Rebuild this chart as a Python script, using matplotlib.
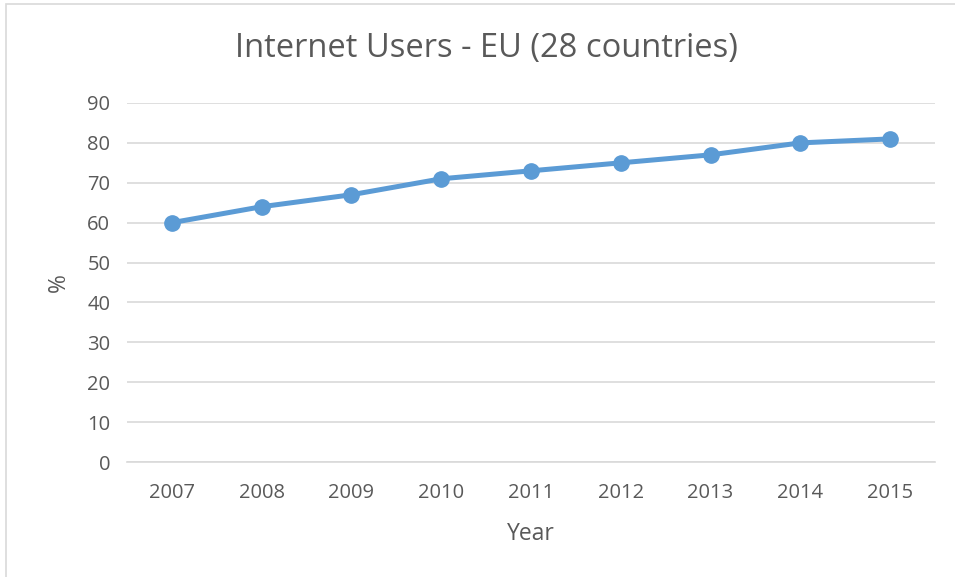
import matplotlib.pyplot as plt
from matplotlib.patches import Rectangle

# internet users in the EU-28, share of population
years = ["2007", "2008", "2009", "2010", "2011", "2012", "2013", "2014", "2015"]
users_pct = [60, 64, 67, 71, 73, 75, 77, 80, 81]

plt.rcParams['font.family'] = ['Open Sans', 'DejaVu Sans']
text_color = "#595959"
grid_color = "#D9D9D9"

fig = plt.figure(figsize=(9.55, 5.77), dpi=100)
ax = fig.add_axes([127 / 955, 1 - 462 / 577, (935 - 127) / 955, (462 - 103) / 577])

# chart border
fig.patches.append(Rectangle((6 / 955, -0.01), 1.0, 1 - 4 / 577 + 0.01, transform=fig.transFigure,
                             fill=False, edgecolor=grid_color, linewidth=1.2))

x = range(len(years))
ax.plot(x, users_pct, color="#5B9BD5", linewidth=3.6, marker="o", markersize=11,
        solid_capstyle="round", zorder=3)

ax.set_xlim(-0.5, len(years) - 0.5)
ax.set_ylim(0, 90)
ax.set_yticks(range(0, 91, 10))
ax.set_xticks(list(x))
ax.set_xticklabels(years)
ax.yaxis.grid(True, color=grid_color, linewidth=1.2)
ax.set_axisbelow(True)
for side in ["top", "right", "left"]:
    ax.spines[side].set_visible(False)
ax.spines["bottom"].set_color(grid_color)
ax.spines["bottom"].set_linewidth(1.2)
ax.tick_params(length=0, labelsize=14.5, colors=text_color)
ax.tick_params(axis="x", pad=15)
ax.tick_params(axis="y", pad=12)

fig.text(486 / 955, 1 - 48 / 577, "Internet Users - EU (28 countries)", fontsize=23.5,
         color=text_color, ha="center", va="center")
ax.set_xlabel("Year", fontsize=16.5, color=text_color, labelpad=14)
ax.set_ylabel("%", fontsize=16.5, color=text_color, labelpad=12)

fig.savefig("out.png", dpi=100)
